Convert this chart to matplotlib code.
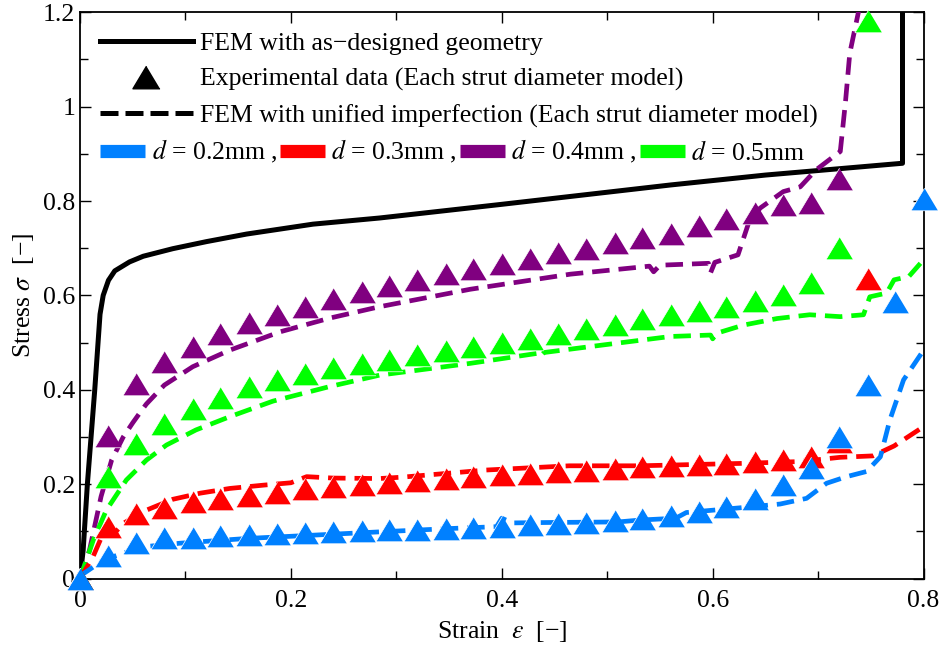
import matplotlib
matplotlib.use("Agg")
from matplotlib import pyplot as plt
from matplotlib.lines import Line2D
from matplotlib.ticker import MultipleLocator, FormatStrFormatter

plt.rcParams['font.family'] = ['Liberation Serif', 'DejaVu Serif']
plt.rcParams['mathtext.fontset'] = 'stix'

## experimental data (triangles)
exp_strain = [0, 0.027, 0.053, 0.08, 0.107, 0.133, 0.16, 0.187, 0.213, 0.24, 0.267,
              0.293, 0.32, 0.347, 0.373, 0.4, 0.427, 0.453, 0.48, 0.507, 0.533,
              0.56, 0.587, 0.613, 0.64, 0.667, 0.693, 0.72, 0.747, 0.773, 0.8]
exp_d02 = [0, 0.048, 0.075, 0.085, 0.087, 0.090, 0.092, 0.094, 0.096, 0.098, 0.101,
           0.102, 0.104, 0.106, 0.107, 0.110, 0.114, 0.116, 0.118, 0.121, 0.127,
           0.133, 0.141, 0.152, 0.169, 0.198, 0.235, 0.301, 0.410, 0.587, 0.804]
exp_d03 = [0, 0.109, 0.137, 0.150, 0.162, 0.169, 0.176, 0.182, 0.189, 0.194, 0.198,
           0.202, 0.207, 0.212, 0.215, 0.219, 0.222, 0.226, 0.229, 0.232, 0.236,
           0.239, 0.241, 0.243, 0.246, 0.251, 0.258, 0.290, 0.634]
exp_d04 = [0, 0.303, 0.412, 0.458, 0.491, 0.518, 0.541, 0.559, 0.576, 0.593, 0.608,
           0.621, 0.633, 0.645, 0.655, 0.666, 0.678, 0.689, 0.699, 0.712, 0.722,
           0.731, 0.747, 0.761, 0.774, 0.792, 0.795, 0.846]
exp_d05 = [0, 0.215, 0.285, 0.328, 0.359, 0.383, 0.405, 0.421, 0.434, 0.446, 0.455,
           0.463, 0.473, 0.482, 0.491, 0.500, 0.508, 0.518, 0.528, 0.537, 0.549,
           0.559, 0.568, 0.576, 0.588, 0.601, 0.627, 0.701, 1.181]

## FEM as-designed
fem_x = [0, 0.003, 0.007, 0.014, 0.019, 0.022, 0.027, 0.033, 0.047, 0.06, 0.088,
         0.12, 0.158, 0.221, 0.284, 0.4, 0.56, 0.65, 0.78, 0.78]
fem_y = [0, 0.06, 0.2, 0.4, 0.56, 0.6, 0.632, 0.652, 0.671, 0.683, 0.699,
         0.714, 0.730, 0.751, 0.764, 0.793, 0.834, 0.855, 0.880, 1.25]

## FEM with unified imperfection
imp02_x = [0, 0.003, 0.022, 0.041, 0.063, 0.095, 0.158, 0.221, 0.284, 0.35, 0.395,
           0.40, 0.41, 0.45, 0.51, 0.531, 0.565, 0.575, 0.626, 0.664, 0.689, 0.708,
           0.727, 0.746, 0.759, 0.768, 0.781, 0.800]
imp02_y = [0, 0.01, 0.039, 0.054, 0.068, 0.075, 0.085, 0.092, 0.099, 0.106, 0.110,
           0.128, 0.118, 0.119, 0.120, 0.124, 0.128, 0.140, 0.150, 0.158, 0.170, 0.202,
           0.216, 0.227, 0.258, 0.336, 0.421, 0.484]
imp03_x = [0, 0.0123, 0.022, 0.028, 0.031, 0.041, 0.063, 0.088, 0.114, 0.142, 0.174,
           0.200, 0.215, 0.240, 0.284, 0.306, 0.385, 0.464, 0.531, 0.626, 0.683,
           0.721, 0.752, 0.772, 0.800]
imp03_y = [0, 0.046, 0.096, 0.099, 0.092, 0.117, 0.145, 0.168, 0.181, 0.191, 0.198,
           0.203, 0.216, 0.213, 0.212, 0.215, 0.230, 0.239, 0.239, 0.244, 0.248,
           0.257, 0.260, 0.281, 0.322]
imp04_x = [0, 0.009, 0.020, 0.030, 0.041, 0.050, 0.058, 0.063, 0.080, 0.107, 0.142,
           0.190, 0.237, 0.284, 0.370, 0.465, 0.540, 0.544, 0.550, 0.596, 0.598,
           0.602, 0.624, 0.634, 0.645, 0.667, 0.683, 0.698, 0.721, 0.726, 0.730,
           0.738, 0.745]
imp04_y = [0, 0.06, 0.174, 0.251, 0.300, 0.330, 0.355, 0.370, 0.410, 0.449, 0.484,
           0.523, 0.552, 0.576, 0.613, 0.645, 0.662, 0.650, 0.664, 0.668, 0.648,
           0.670, 0.686, 0.753, 0.785, 0.820, 0.830, 0.866, 0.905, 1.012, 1.113,
           1.198, 1.3]
imp05_x = [0, 0.0127, 0.025, 0.044, 0.063, 0.082, 0.110, 0.142, 0.183, 0.237, 0.284,
           0.370, 0.433, 0.436, 0.440, 0.496, 0.560, 0.598, 0.600, 0.604, 0.629,
           0.661, 0.692, 0.721, 0.743, 0.749, 0.765, 0.772, 0.786, 0.797]
imp05_y = [0, 0.082, 0.145, 0.209, 0.251, 0.283, 0.315, 0.343, 0.376, 0.407, 0.431,
           0.456, 0.477, 0.470, 0.479, 0.495, 0.513, 0.516, 0.508, 0.520, 0.537,
           0.551, 0.559, 0.555, 0.559, 0.597, 0.605, 0.633, 0.640, 0.668]

labels_d = ['$d$ = 0.2mm ,', '$d$ = 0.3mm ,', '$d$ = 0.4mm ,', '$d$ = 0.5mm']
col_d02 = '#0080ff'
col_d03 = '#ff0000'
col_d04 = '#800080'
col_d05 = '#00ff00'

tri = [(0, 1), (-1.2, -1), (1.2, -1)]
dash = (0, (3.7, 1.9))
fs = 18.5

fig = plt.figure(figsize=(9.41, 6.54), dpi=100)
ax = fig.add_axes([0.085, 0.1153, 0.8965, 0.866])

ax.plot(fem_x, fem_y, color='k', lw=3.6, zorder=2)

series = [(imp04_x, imp04_y, exp_d04, col_d04),
          (imp05_x, imp05_y, exp_d05, col_d05),
          (imp03_x, imp03_y, exp_d03, col_d03),
          (imp02_x, imp02_y, exp_d02, col_d02)]
for lx, ly, ey, c in series:
    ax.plot(lx, ly, color=c, lw=3.4, ls=dash, zorder=3)
for lx, ly, ey, c in series:
    ax.plot(exp_strain[:len(ey)], ey, ls='none', marker=tri, ms=19.5, color=c,
            mec='white', mew=0.5, zorder=4, clip_on=False)

ax.set_xlim(0, 0.8)
ax.set_ylim(0, 1.2)
ax.xaxis.set_major_locator(MultipleLocator(0.2))
ax.xaxis.set_minor_locator(MultipleLocator(0.1))
ax.yaxis.set_major_locator(MultipleLocator(0.2))
ax.yaxis.set_minor_locator(MultipleLocator(0.1))
ax.xaxis.set_major_formatter(FormatStrFormatter('%g'))
ax.yaxis.set_major_formatter(FormatStrFormatter('%g'))
ax.tick_params(which='both', direction='in', top=True, right=True, labelsize=fs, width=1.0)
ax.tick_params(which='major', length=8)
ax.tick_params(which='minor', length=5.5)
ax.tick_params(axis='x', which='major', pad=8)
for s in ax.spines.values():
    s.set_linewidth(1.3)

ax.set_xlabel('Strain  $\\varepsilon$  [−]', fontsize=fs, labelpad=5)
ax.set_ylabel('Stress $\\sigma$  [−]', fontsize=fs, labelpad=5)

h1 = Line2D([], [], color='k', lw=3.6)
h2 = Line2D([], [], color='k', ls='none', marker=tri, ms=19.5)
h3 = Line2D([], [], color='k', lw=3.6, ls=(0, (3.6, 1.4)))
leg1 = ax.legend([h1, h2, h3],
                 ['FEM with as−designed geometry',
                  'Experimental data (Each strut diameter model)',
                  'FEM with unified imperfection (Each strut diameter model)'],
                 loc='upper left', bbox_to_anchor=(0.024, 0.965), frameon=False,
                 handlelength=3.6, handletextpad=0.27, borderaxespad=0, borderpad=0,
                 labelspacing=0.5, fontsize=fs, numpoints=1)
ax.add_artist(leg1)

hd = [Line2D([], [], color=c, lw=9.5, solid_capstyle='butt')
      for c in [col_d02, col_d03, col_d04, col_d05]]
ax.legend(hd, labels_d, ncol=4, loc='upper left', bbox_to_anchor=(0.024, 0.778),
          frameon=False, handlelength=1.75, handletextpad=0.25, columnspacing=0.1,
          borderaxespad=0, borderpad=0, fontsize=fs)

plt.savefig('out.png', dpi=100)
